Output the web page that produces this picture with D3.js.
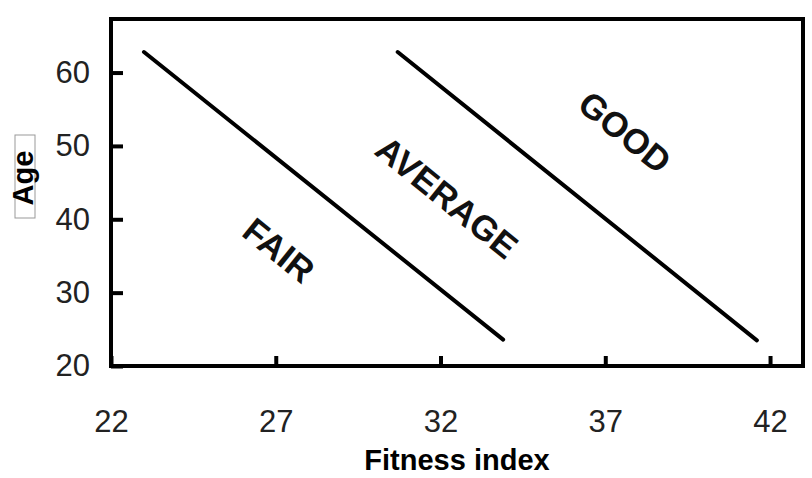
<!DOCTYPE html>
<html>
<head>
<meta charset="utf-8">
<script src="https://cdn.jsdelivr.net/npm/d3@7"></script>
<style>
  body { margin: 0; background: #fff; }
  text { font-family: "Liberation Sans", Arial, sans-serif; }
</style>
</head>
<body>
<div id="chart"></div>
<script>
// fitness zones: two boundary lines plus zone labels
const xTicks = [22, 27, 32, 37, 42]
const yTicks = [20, 30, 40, 50, 60]
const fairLine = [[23.0, 62.8], [33.9, 23.6]]
const goodLine = [[30.7, 62.8], [41.6, 23.5]]
const zoneNames = ["FAIR", "AVERAGE", "GOOD"]
const zoneX = [27.1, 32.2, 37.6]
const zoneY = [35.8, 43.0, 51.9]

;(function () {
    const margin = { top: 19, right: 9, bottom: 112, left: 111 }
    const width = 812 - margin.left - margin.right,
    height = 478 - margin.top - margin.bottom

    const x = d3.scaleLinear().domain([22, 43]).range([0, width])
    const y = d3.scaleLinear().domain([20, 67.3]).range([height, 0])

    const svg = d3.select("#chart")
        .append("svg")
        .attr("width", width + margin.left + margin.right)
        .attr("height", height + margin.top + margin.bottom)

    const g = svg.append("g")
        .attr("transform", "translate(" + margin.left + "," + margin.top + ")")

    // x axis, ticks point inward
    const xAxis = g.append("g")
        .attr("transform", "translate(0," + height + ")")
        .call(d3.axisBottom(x).tickValues(xTicks).tickSize(-10).tickPadding(44))
    xAxis.select(".domain").remove()
    xAxis.selectAll("line").attr("stroke", "#000").attr("stroke-width", 4)
    xAxis.selectAll("text").attr("font-size", "31px").attr("fill", "#222")

    const yAxis = g.append("g")
        .call(d3.axisLeft(y).tickValues(yTicks).tickSize(-12).tickPadding(21))
    yAxis.select(".domain").remove()
    yAxis.selectAll("line").attr("stroke", "#000").attr("stroke-width", 4)
    yAxis.selectAll("text").attr("font-size", "31px").attr("fill", "#222")

    // frame
    g.append("rect")
        .attr("width", width)
        .attr("height", height)
        .attr("fill", "none")
        .attr("stroke", "#000")
        .attr("stroke-width", 4)

    const line = d3.line().x(d => x(d[0])).y(d => y(d[1]))
    ;[fairLine, goodLine].forEach(function (pts) {
        g.append("path")
            .attr("d", line(pts))
            .attr("fill", "none")
            .attr("stroke", "#000")
            .attr("stroke-width", 4)
            .attr("stroke-linecap", "round")
    })

    zoneNames.forEach(function (name, i) {
        g.append("text")
            .attr("transform", "translate(" + x(zoneX[i]) + "," + y(zoneY[i]) + ") rotate(39)")
            .attr("text-anchor", "middle")
            .attr("dominant-baseline", "central")
            .attr("font-size", "35px")
            .attr("font-weight", "bold")
            .attr("fill", "#111")
            .text(name)
    })

    // axis titles
    svg.append("text")
        .attr("x", 457)
        .attr("y", 470)
        .attr("text-anchor", "middle")
        .attr("font-size", "29px")
        .attr("font-weight", "bold")
        .attr("fill", "#000")
        .text("Fitness index")

    svg.append("rect")
        .attr("x", 15).attr("y", 135)
        .attr("width", 20).attr("height", 83)
        .attr("fill", "none")
        .attr("stroke", "#999")
        .attr("stroke-width", 1)

    svg.append("text")
        .attr("transform", "translate(33,178) rotate(-90)")
        .attr("text-anchor", "middle")
        .attr("font-size", "29px")
        .attr("font-weight", "bold")
        .attr("fill", "#000")
        .text("Age")
})()
</script>
</body>
</html>
